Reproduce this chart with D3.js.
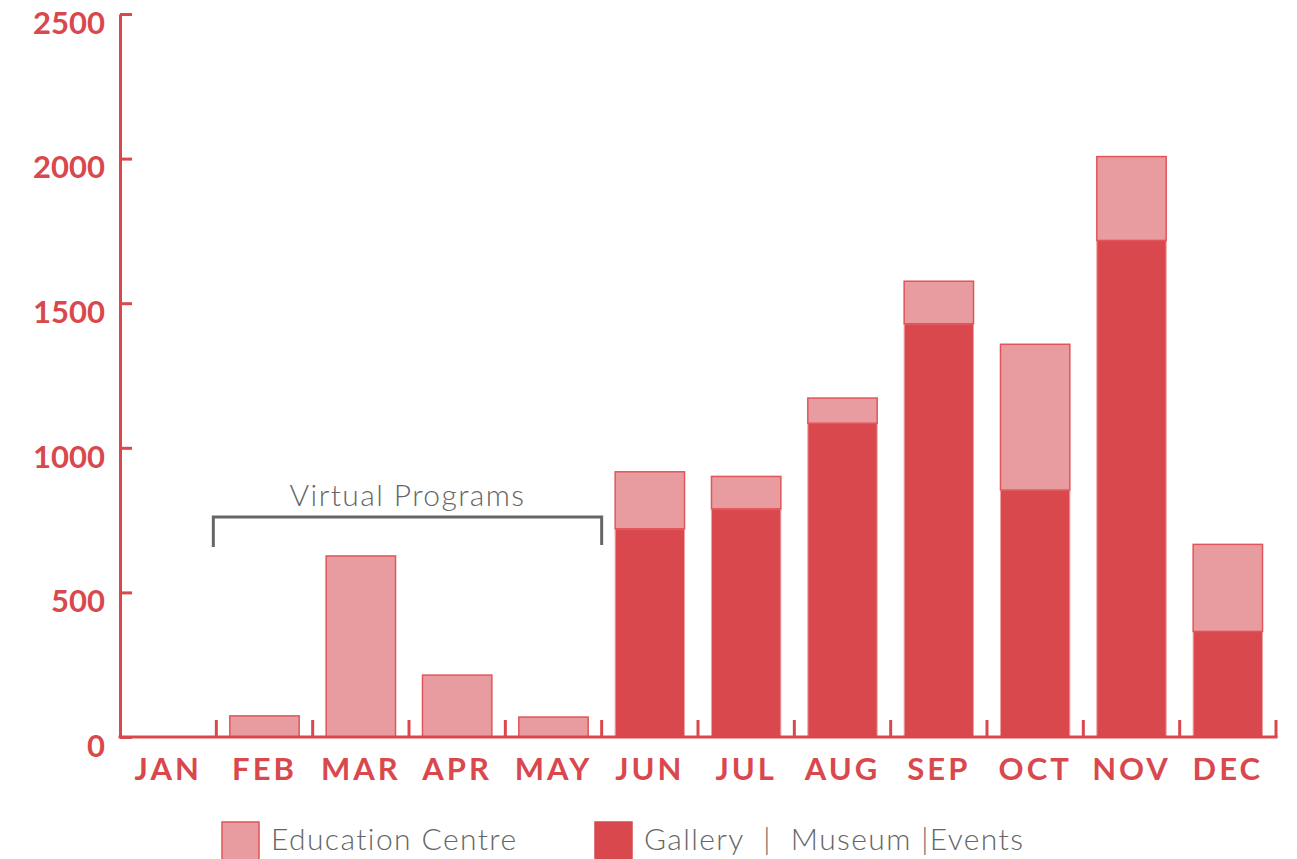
<!DOCTYPE html>
<html>
<head>
<meta charset="utf-8">
<script src="https://cdn.jsdelivr.net/npm/d3@7"></script>
<style>
  body { margin: 0; background: #fff; }
  .ylab { font-family: Lato, sans-serif; font-weight: 700; font-size: 31px; fill: #d9484d; }
  .xlab { font-family: Lato, sans-serif; font-weight: 700; font-size: 31px; fill: #d9484d; letter-spacing: 3px; }
  .note { font-family: Lato, sans-serif; font-weight: 300; font-size: 30px; fill: #666; letter-spacing: 1.4px; }
</style>
</head>
<body>
<div class="canvas"></div>
<script>
var months = ['JAN','FEB','MAR','APR','MAY','JUN','JUL','AUG','SEP','OCT','NOV','DEC'];
var gallery   = [0, 0, 0, 0, 0, 720, 789, 1085, 1429, 854, 1717, 365];
var education = [0, 73, 626, 214, 69, 197, 112, 87, 147, 504, 290, 301];
var yTicks = [0, 500, 1000, 1500, 2000, 2500];
var virtualMonths = ['FEB','MAY'];
var legendLabels = ['Education Centre', 'Gallery  |  Museum |Events'];

var canvasWidth = 1297, canvasHeight = 859;
var margin = {t:14, r:21, b:122, l:120};
var red = '#d9484d', pink = '#e89ca0', gray = '#666';

var svg = d3.select('.canvas')
    .append('svg')
    .attr('width', canvasWidth)
    .attr('height', canvasHeight);

var x = d3.scaleBand()
    .domain(months)
    .range([margin.l, canvasWidth - margin.r])
    .paddingInner(0.28)
    .paddingOuter(0.14);

var y = d3.scaleLinear()
    .domain([0, 2500])
    .range([canvasHeight - margin.b, margin.t]);

var data = months.map(function(m, i){
    return {month: m, gallery: gallery[i], education: education[i]};
});

// bars: gallery at the bottom, education stacked on top
svg.selectAll('.bar-g')
    .data(data.filter(function(d){ return d.gallery > 0; }))
    .enter()
    .append('rect')
    .attr('class', 'bar-g')
    .attr('x', function(d){ return x(d.month); })
    .attr('width', x.bandwidth())
    .attr('y', function(d){ return y(d.gallery); })
    .attr('height', function(d){ return y(0) - y(d.gallery); })
    .style('fill', red)
    .style('stroke', '#f0a0a3')
    .style('stroke-width', 1);

svg.selectAll('.bar-e')
    .data(data.filter(function(d){ return d.education > 0; }))
    .enter()
    .append('rect')
    .attr('class', 'bar-e')
    .attr('x', function(d){ return x(d.month); })
    .attr('width', x.bandwidth())
    .attr('y', function(d){ return y(d.gallery + d.education); })
    .attr('height', function(d){ return y(d.gallery) - y(d.gallery + d.education); })
    .style('fill', pink)
    .style('stroke', '#e0555a')
    .style('stroke-width', 1.5);

// y axis
var yAxis = d3.axisLeft(y)
    .tickValues(yTicks)
    .tickSize(-12)
    .tickSizeOuter(0)
    .tickPadding(15)
    .tickFormat(d3.format('d'));

var gy = svg.append('g')
    .attr('transform', 'translate(' + margin.l + ',0)')
    .call(yAxis);
gy.select('.domain').style('stroke', red).style('stroke-width', 3);
gy.selectAll('.tick line').style('stroke', red).style('stroke-width', 3);
gy.selectAll('.tick text')
    .attr('class', 'ylab')
    .attr('dy', '0.72em')
    .attr('y', -3);

// x axis: baseline with ticks between the months
var base = y(0);
svg.append('line')
    .attr('x1', margin.l - 1.5)
    .attr('x2', canvasWidth - margin.r + 1.5)
    .attr('y1', base)
    .attr('y2', base)
    .style('stroke', red)
    .style('stroke-width', 3);

var gap = x.step() * x.paddingInner() / 2;
svg.selectAll('.xtick')
    .data(months.slice(1).concat(['END']))
    .enter()
    .append('line')
    .attr('class', 'xtick')
    .attr('x1', function(d){ return d === 'END' ? canvasWidth - margin.r : x(d) - gap; })
    .attr('x2', function(d){ return d === 'END' ? canvasWidth - margin.r : x(d) - gap; })
    .attr('y1', base)
    .attr('y2', base - 17)
    .style('stroke', red)
    .style('stroke-width', 3);

svg.selectAll('.xlab')
    .data(months)
    .enter()
    .append('text')
    .attr('class', 'xlab')
    .attr('x', function(d){ return x(d) + x.bandwidth() / 2; })
    .attr('y', base + 43)
    .attr('text-anchor', 'middle')
    .text(function(d){ return d; });

// Virtual Programs bracket
var bx1 = x(virtualMonths[0]) - gap - 3,
    bx2 = x(virtualMonths[1]) + x.bandwidth() + gap,
    by = 517;
svg.append('path')
    .attr('d', 'M' + bx1 + ',' + (by + 30) + 'V' + by + 'H' + bx2 + 'V' + (by + 28))
    .style('fill', 'none')
    .style('stroke', gray)
    .style('stroke-width', 3);

svg.append('text')
    .attr('class', 'note')
    .attr('x', (bx1 + bx2) / 2)
    .attr('y', 506)
    .attr('text-anchor', 'middle')
    .text('Virtual Programs');

// legend
var legendX = [222, 595];
var legendFill = [pink, red];
var legendStroke = ['#e0555a', red];
legendLabels.forEach(function(label, i){
    svg.append('rect')
        .attr('x', legendX[i])
        .attr('y', 822)
        .attr('width', 37)
        .attr('height', 40)
        .style('fill', legendFill[i])
        .style('stroke', legendStroke[i])
        .style('stroke-width', 1.5);
    svg.append('text')
        .attr('class', 'note')
        .attr('x', legendX[i] + 49)
        .attr('y', 850)
        .style('white-space', 'pre')
        .text(label);
});
</script>
</body>
</html>
